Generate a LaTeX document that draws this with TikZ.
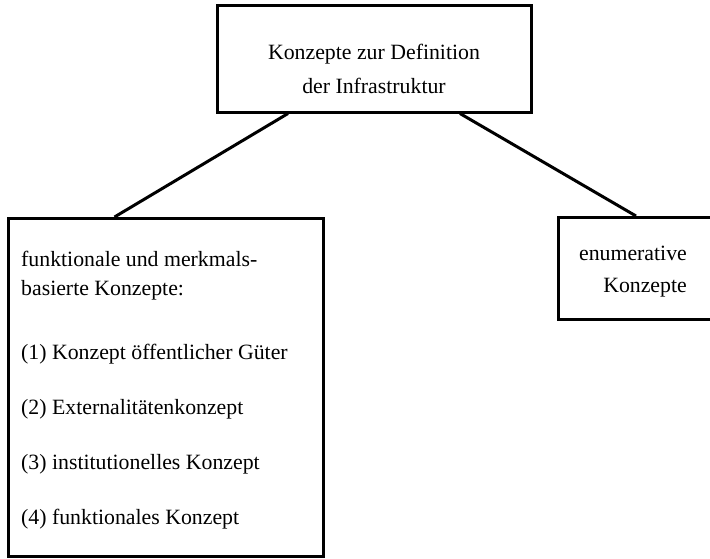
\documentclass[tikz,border=0pt]{standalone}
\usepackage{fontspec}
\setmainfont{Liberation Serif}
\tikzset{
  box/.style={draw, line width=3pt, rectangle, inner sep=0pt},
  lbl/.style={inner sep=0pt, font=\fontsize{21.8}{29}\selectfont},
  link/.style={line width=3pt}
}
\begin{document}
\begin{tikzpicture}[x=1pt,y=1pt,yscale=-1,xscale=1]
\useasboundingbox (0,0) rectangle (710,558);

%Shape: Rectangle [top]
\node[box, minimum width=314, minimum height=107] (top) at (374,58.5) {};
\node[lbl, align=center, anchor=base, font=\fontsize{21.8}{34}\selectfont] (topText) at (374,93) {Konzepte zur Definition\\der Infrastruktur};

%Shape: Rectangle [left]
\node[box, minimum width=315, minimum height=338, anchor=north west] (funk) at (7,217) {};
\node[lbl, align=left, anchor=base west] (funkText) at (21,524) {funktionale und merkmals-\\basierte Konzepte:\\[35pt]
(1) Konzept öffentlicher Güter\\[26pt]
(2) Externalitätenkonzept\\[26pt]
(3) institutionelles Konzept\\[26pt]
(4) funktionales Konzept};

%Shape: Rectangle [right]
\node[box, minimum width=155, minimum height=102, anchor=north west] (enum) at (557,216) {};
\node[lbl, align=right, anchor=base east, font=\fontsize{21.8}{32}\selectfont] (enumText) at (687,292) {enumerative\\Konzepte};

%Straight Lines
\draw[link] ([xshift=-86pt]top.south) -- ([xshift=-51.5pt]funk.north);
\draw[link] ([xshift=86pt]top.south) -- (enum.north);

\end{tikzpicture}
\end{document}
